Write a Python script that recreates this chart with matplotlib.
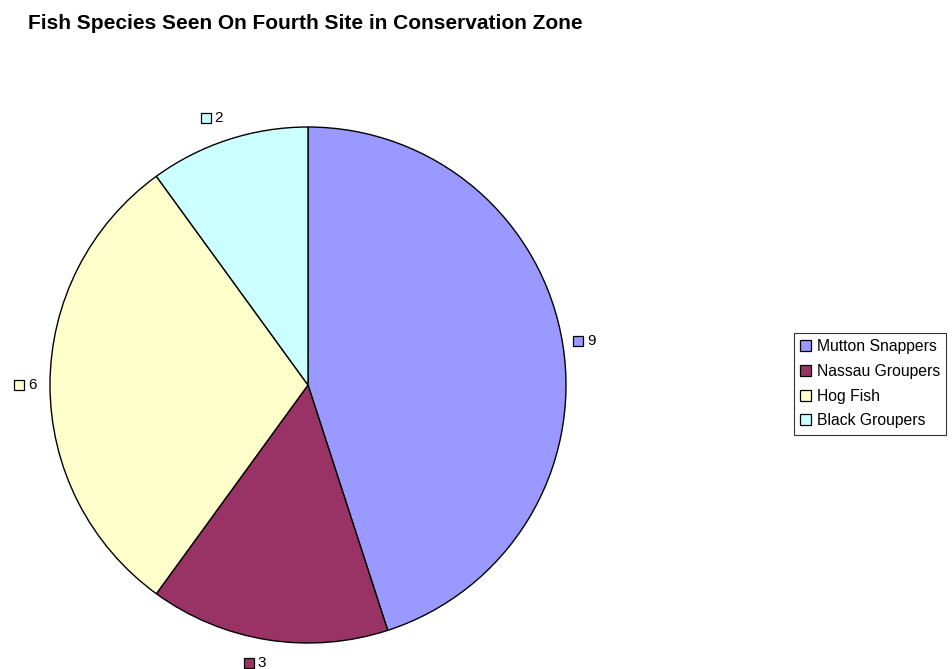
import numpy as np
import matplotlib
matplotlib.use("Agg")
from matplotlib import pyplot as plt
from matplotlib.patches import Patch

plt.rcParams['font.family'] = ['Liberation Sans', 'DejaVu Sans']

species = ['Mutton Snappers', 'Nassau Groupers', 'Hog Fish', 'Black Groupers']
counts = [9, 3, 6, 2]
colors = ['#9999FF', '#993366', '#FFFFCC', '#CCFFFF']

W, H = 952, 669
fig = plt.figure(figsize=(W / 100, H / 100), dpi=100)

cx, cy, r = 308, 385, 258
ax = fig.add_axes([(cx - r) / W, (H - cy - r) / H, 2 * r / W, 2 * r / H])
wedges, _ = ax.pie(counts, colors=colors, startangle=90, counterclock=False,
                   radius=1.0, wedgeprops=dict(edgecolor='black', linewidth=1.0))
ax.set_xlim(-1, 1)
ax.set_ylim(-1, 1)
ax.set_aspect('equal')
ax.axis('off')

# value labels with little colour boxes, just outside each wedge
for w, v, c in zip(wedges, counts, colors):
    mid = np.deg2rad((w.theta1 + w.theta2) / 2)
    x = 1.09 * np.cos(mid)
    y = 1.09 * np.sin(mid)
    if np.cos(mid) < 0 and abs(np.sin(mid)) > 0.5:
        x -= 0.03
    ax.plot([x - 0.03], [y], marker='s', markersize=7, markerfacecolor=c,
            markeredgecolor='black', markeredgewidth=0.9, clip_on=False)
    ax.text(x + 0.004, y, str(v), fontsize=11, ha='left', va='center', clip_on=False)

fig.text(28 / W, 1 - 29 / H, 'Fish Species Seen On Fourth Site in Conservation Zone',
         fontsize=15, fontweight='bold', ha='left', va='baseline')

handles = [Patch(facecolor=c, edgecolor='black', linewidth=0.9) for c in colors]
leg = fig.legend(handles, species, loc='upper left',
                 bbox_to_anchor=(794 / W, 1 - 333 / H), fontsize=11.3,
                 frameon=True, fancybox=False, handlelength=0.7, handleheight=0.7,
                 handletextpad=0.35, labelspacing=0.62, borderpad=0.4,
                 borderaxespad=0)
leg.get_frame().set_edgecolor('black')
leg.get_frame().set_linewidth(0.8)

fig.savefig('out.png', dpi=100)
